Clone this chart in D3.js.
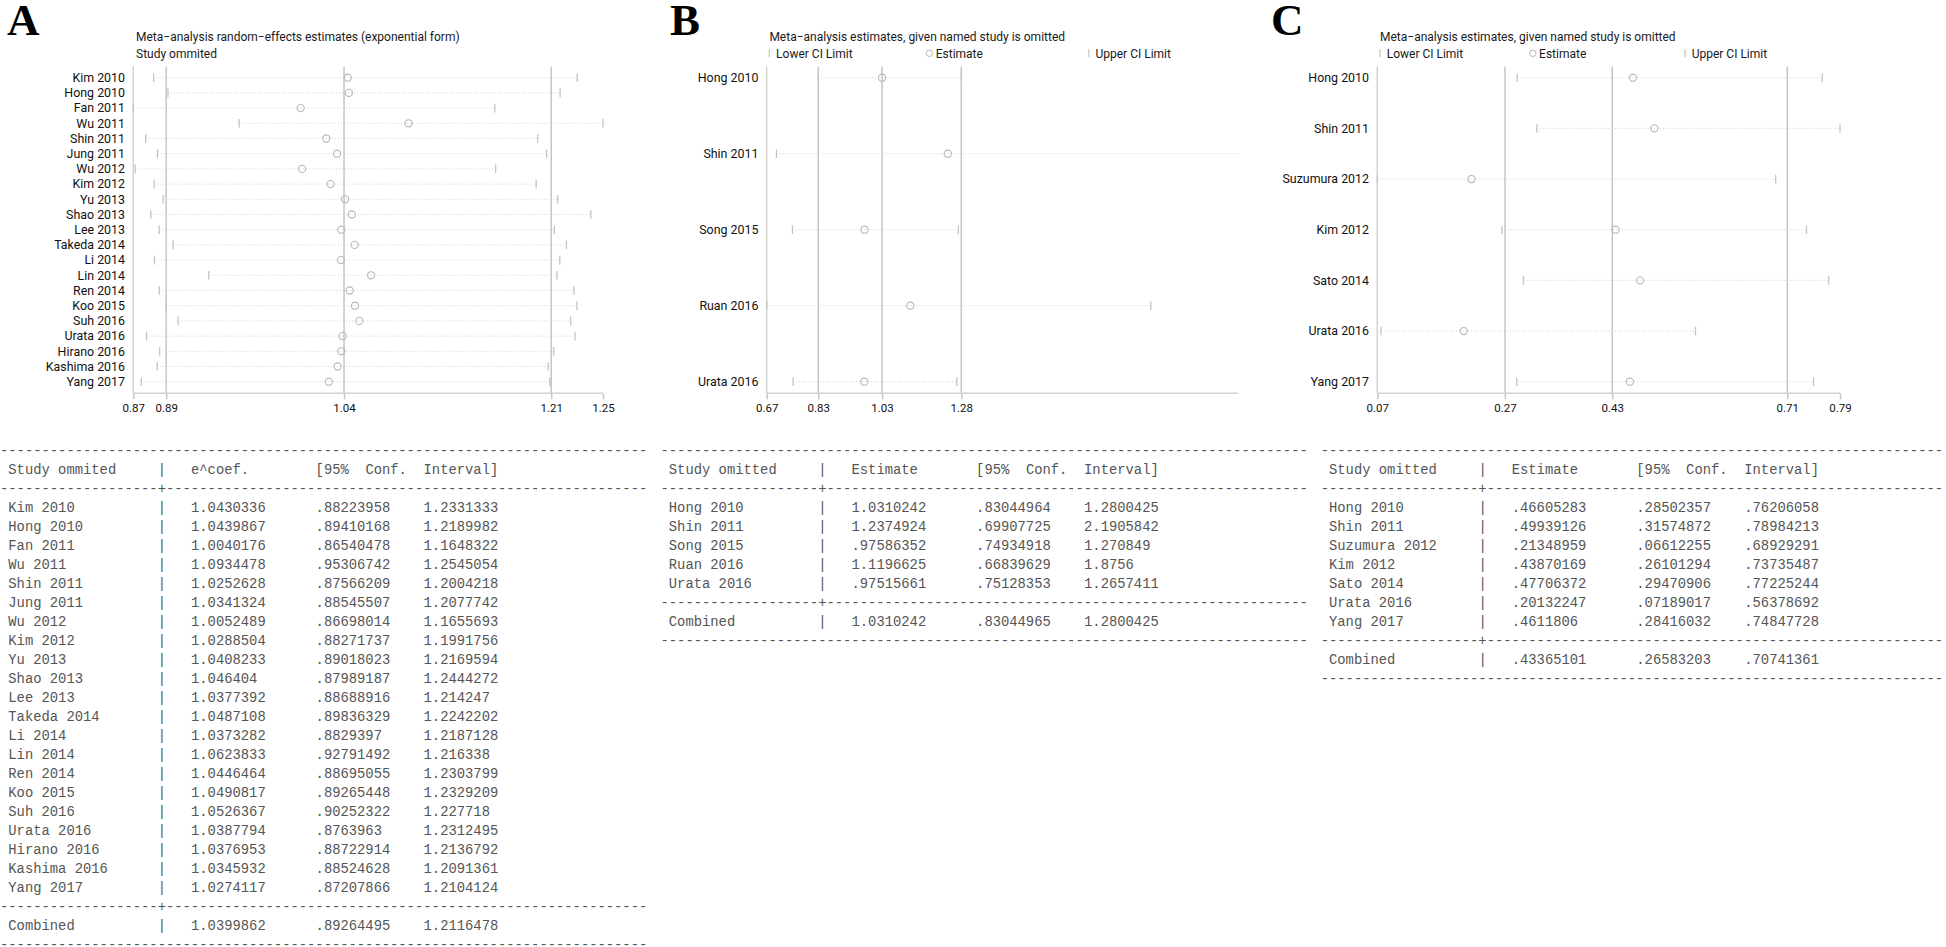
<!DOCTYPE html>
<html>
<head>
<meta charset="utf-8">
<script src="https://cdn.jsdelivr.net/npm/d3@7"></script>
<style>
  body { margin: 0; background: #fff; }
  svg { display: block; }
</style>
</head>
<body>
<div id="chart"></div>
<script>
// ---- data: panel A (random-effects, exponential form) ----
const studiesA = ["Kim 2010", "Hong 2010", "Fan 2011", "Wu 2011", "Shin 2011", "Jung 2011", "Wu 2012", "Kim 2012",
  "Yu 2013", "Shao 2013", "Lee 2013", "Takeda 2014", "Li 2014", "Lin 2014", "Ren 2014", "Koo 2015", "Suh 2016",
  "Urata 2016", "Hirano 2016", "Kashima 2016", "Yang 2017"];
const estA = [1.0430336, 1.0439867, 1.0040176, 1.0934478, 1.0252628, 1.0341324, 1.0052489, 1.0288504, 1.0408233,
  1.046404, 1.0377392, 1.0487108, 1.0373282, 1.0623833, 1.0446464, 1.0490817, 1.0526367, 1.0387794, 1.0376953,
  1.0345932, 1.0274117];
const lowerA = [.88223958, .89410168, .86540478, .95306742, .87566209, .88545507, .86698014, .88271737, .89018023,
  .87989187, .88688916, .89836329, .8829397, .92791492, .88695055, .89265448, .90252322, .8763963, .88722914,
  .88524628, .87207866];
const upperA = [1.2331333, 1.2189982, 1.1648322, 1.2545054, 1.2004218, 1.2077742, 1.1655693, 1.1991756, 1.2169594,
  1.2444272, 1.214247, 1.2242202, 1.2187128, 1.216338, 1.2303799, 1.2329209, 1.227718, 1.2312495, 1.2136792,
  1.2091361, 1.2104124];
const combinedA = [1.0399862, .89264495, 1.2116478]; // estimate, lower, upper
const ticksA = [.86540478, .89264495, 1.0399862, 1.2116478, 1.2545054];

// ---- data: panel B ----
const studiesB = ["Hong 2010", "Shin 2011", "Song 2015", "Ruan 2016", "Urata 2016"];
const estB = [1.0310242, 1.2374924, .97586352, 1.1196625, .97515661];
const lowerB = [.83044964, .69907725, .74934918, .66839629, .75128353];
const upperB = [1.2800425, 2.1905842, 1.270849, 1.8756, 1.2657411];
const combinedB = [1.0310242, .83044965, 1.2800425];
const ticksB = [.66839629, .83044965, 1.0310242, 1.2800425];

// ---- data: panel C ----
const studiesC = ["Hong 2010", "Shin 2011", "Suzumura 2012", "Kim 2012", "Sato 2014", "Urata 2016", "Yang 2017"];
const estC = [.46605283, .49939126, .21348959, .43870169, .47706372, .20132247, .4611806];
const lowerC = [.28502357, .31574872, .06612255, .26101294, .29470906, .07189017, .28416032];
const upperC = [.76206058, .78984213, .68929291, .73735487, .77225244, .56378692, .74847728];
const combinedC = [.43365101, .26583203, .70741361];
const ticksC = [.06612255, .26583203, .43365101, .70741361, .78984213];

const titleRE = "Meta\u2212analysis random\u2212effects estimates (exponential form)";
const titleOm = "Meta\u2212analysis estimates, given named study is omitted";
const legendLabels = ["Lower CI Limit", "Estimate", "Upper CI Limit"];

// ---- layout ----
const W = 1946, H = 947;
const plotTop = 66.7, plotBottom = 393.3, rowTop = 77.7, rowBottom = 381.7;
const sansFont = "Roboto, 'Noto Sans', sans-serif";
const monoFont = "'Liberation Mono', 'DejaVu Sans Mono', monospace";
const labelSize = 12.4, tickSize = 11.5;
const refColor = "#c9c4c0", axisColor = "#d6d2ce", ciColor = "#c4c4c4", dotColor = "#d2d2d2", circColor = "#b8b8b8";

const panels = [
  { id: "A", letterX: 7, x0: 133.3, rangeEnd: 603, axisEnd: 603, studies: studiesA, est: estA, lower: lowerA,
    upper: upperA, combined: combinedA, ticks: ticksA, title: titleRE, subtitle: "Study ommited",
    tableX: 0, studyHead: "Study ommited", estHead: "e^coef." },
  { id: "B", letterX: 670, x0: 766.7, rangeEnd: 1251, axisEnd: 1238, studies: studiesB, est: estB, lower: lowerB,
    upper: upperB, combined: combinedB, ticks: ticksB, title: titleOm, legendStep: 161.7,
    tableX: 660.5, studyHead: "Study omitted", estHead: "Estimate" },
  { id: "C", letterX: 1271, x0: 1377.3, rangeEnd: 1840, axisEnd: 1840, studies: studiesC, est: estC, lower: lowerC,
    upper: upperC, combined: combinedC, ticks: ticksC, title: titleOm, legendStep: 154.5,
    tableX: 1320.7, studyHead: "Study omitted", estHead: "Estimate" }
];

const svg = d3.select("#chart").append("svg")
  .attr("width", W).attr("height", H)
  .attr("viewBox", `0 0 ${W} ${H}`);
svg.append("rect").attr("width", W).attr("height", H).attr("fill", "#fff");
const defs = svg.append("defs");

function drawPanel(p) {
  const g = svg.append("g").attr("class", "panel-" + p.id);

  const x = d3.scaleLinear()
    .domain([d3.min(p.lower), d3.max(p.upper)])
    .range([p.x0, p.rangeEnd]);
  const y = d3.scalePoint()
    .domain(p.studies)
    .range([rowTop, rowBottom]);

  // panel letter
  svg.append("text")
    .attr("x", p.letterX).attr("y", 35)
    .attr("font-family", "'Liberation Serif', 'Times New Roman', serif")
    .attr("font-weight", "bold").attr("font-size", 45)
    .attr("fill", "#000")
    .text(p.id);

  const tx = p.x0 + 2.7;
  g.append("text")
    .attr("x", tx).attr("y", 36.7).attr("dy", "0.35em")
    .attr("font-family", sansFont).attr("font-size", 12).attr("fill", "#1a1a1a")
    .text(p.title);

  if (p.subtitle) {
    g.append("text")
      .attr("x", tx).attr("y", 53.3).attr("dy", "0.35em")
      .attr("font-family", sansFont).attr("font-size", 12).attr("fill", "#1a1a1a")
      .text(p.subtitle);
  } else {
    // legend: lower tick | estimate circle | upper tick
    const lg = g.append("g").attr("transform", `translate(${tx},53.3)`);
    legendLabels.forEach((lab, i) => {
      const lx = i * p.legendStep;
      if (i === 1) {
        lg.append("circle").attr("cx", lx - 1.7).attr("cy", 0).attr("r", 3.2)
          .attr("fill", "none").attr("stroke", circColor).attr("stroke-width", 1);
        lg.append("text").attr("x", lx + 4.6).attr("y", 0).attr("dy", "0.35em")
          .attr("font-family", sansFont).attr("font-size", 12).attr("fill", "#1a1a1a").text(lab);
      } else {
        const ox = i === 2 ? -4 : 0;
        lg.append("line").attr("x1", lx + ox).attr("x2", lx + ox).attr("y1", -4).attr("y2", 4)
          .attr("stroke", ciColor).attr("stroke-width", 1.2);
        lg.append("text").attr("x", lx + ox + 6.7).attr("y", 0).attr("dy", "0.35em")
          .attr("font-family", sansFont).attr("font-size", 12).attr("fill", "#1a1a1a").text(lab);
      }
    });
  }

  // study labels
  g.append("g").selectAll("text")
    .data(p.studies)
    .join("text")
    .attr("x", p.x0 - 8.3).attr("y", d => y(d)).attr("dy", "0.35em")
    .attr("text-anchor", "end")
    .attr("font-family", sansFont).attr("font-size", labelSize).attr("fill", "#111")
    .text(d => d);

  // left axis line
  g.append("line")
    .attr("x1", p.x0).attr("x2", p.x0).attr("y1", plotTop).attr("y2", plotBottom)
    .attr("stroke", axisColor).attr("stroke-width", 1.5);

  // reference lines at combined lower, estimate, upper
  g.append("g").selectAll("line")
    .data(p.combined)
    .join("line")
    .attr("x1", d => x(d)).attr("x2", d => x(d))
    .attr("y1", plotTop).attr("y2", plotBottom)
    .attr("stroke", refColor).attr("stroke-width", 1.5);

  // bottom axis
  const axis = d3.axisBottom(x)
    .tickValues(p.ticks)
    .tickFormat(d3.format(".2f"))
    .tickSize(6).tickSizeOuter(0).tickPadding(5);
  const ax = g.append("g").attr("transform", `translate(0,${plotBottom})`).call(axis);
  ax.select(".domain").remove();
  ax.selectAll(".tick line").attr("stroke", refColor).attr("stroke-width", 1.5);
  ax.selectAll(".tick text")
    .attr("font-family", sansFont).attr("font-size", tickSize).attr("fill", "#111");
  g.append("line")
    .attr("x1", p.x0).attr("x2", p.axisEnd).attr("y1", plotBottom).attr("y2", plotBottom)
    .attr("stroke", axisColor).attr("stroke-width", 1.5);

  // clipped plot content
  defs.append("clipPath").attr("id", "clip" + p.id)
    .append("rect")
    .attr("x", p.x0 - 4).attr("y", plotTop - 4)
    .attr("width", p.axisEnd - p.x0 + 5).attr("height", plotBottom - plotTop + 8);
  const pg = g.append("g").attr("clip-path", `url(#clip${p.id})`);

  const rows = p.studies.map((s, i) => ({ s, est: p.est[i], lo: p.lower[i], hi: p.upper[i] }));

  pg.append("g").selectAll("line")
    .data(rows)
    .join("line")
    .attr("x1", d => x(d.lo)).attr("x2", d => x(d.hi))
    .attr("y1", d => y(d.s)).attr("y2", d => y(d.s))
    .attr("stroke", dotColor).attr("stroke-width", 1).attr("stroke-dasharray", "1,2");

  const ends = rows.flatMap(d => [{ s: d.s, v: d.lo }, { s: d.s, v: d.hi }]);
  pg.append("g").selectAll("line")
    .data(ends)
    .join("line")
    .attr("x1", d => x(d.v)).attr("x2", d => x(d.v))
    .attr("y1", d => y(d.s) - 4.3).attr("y2", d => y(d.s) + 4.3)
    .attr("stroke", ciColor).attr("stroke-width", 1.3);

  pg.append("g").selectAll("circle")
    .data(rows)
    .join("circle")
    .attr("cx", d => x(d.est)).attr("cy", d => y(d.s)).attr("r", 3.6)
    .attr("fill", "none").attr("stroke", circColor).attr("stroke-width", 1.1);
}

// ---- Stata-style output tables ----
const cw = 8.305, lineH = 19, tableTop = 450.2;
const fmtNum = v => String(v).replace(/^0\./, ".");

function drawTable(p) {
  // dashed rules run to the page edge at most
  const nDash = Math.min(78, Math.floor((W - p.tableX) / cw));
  const dashLine = plusAt => d3.range(nDash).map(i => i === plusAt ? "+" : "-").join("");

  const g = svg.append("g").attr("class", "table-" + p.id)
    .attr("font-family", monoFont).attr("font-size", 13.84).attr("fill", "#555");
  const lines = [];
  lines.push(dashLine(-1));
  lines.push([[1, p.studyHead], [19, "|"], [23, p.estHead], [38, "[95%"], [44, "Conf."], [51, "Interval]"]]);
  lines.push(dashLine(19));
  p.studies.forEach((s, i) => {
    lines.push([[1, s], [19, "|"], [23, fmtNum(p.est[i])], [38, fmtNum(p.lower[i])], [51, fmtNum(p.upper[i])]]);
  });
  lines.push(dashLine(19));
  lines.push([[1, "Combined"], [19, "|"], [23, fmtNum(p.combined[0])], [38, fmtNum(p.combined[1])], [51, fmtNum(p.combined[2])]]);
  lines.push(dashLine(-1));

  lines.forEach((ln, i) => {
    const yy = tableTop + i * lineH + 4.6;
    const cells = typeof ln === "string" ? [[0, ln]] : ln;
    cells.forEach(([col, txt]) => {
      g.append("text")
        .attr("x", p.tableX + col * cw).attr("y", yy)
        .text(txt);
    });
  });
}

panels.forEach(p => { drawPanel(p); drawTable(p); });
</script>
</body>
</html>
